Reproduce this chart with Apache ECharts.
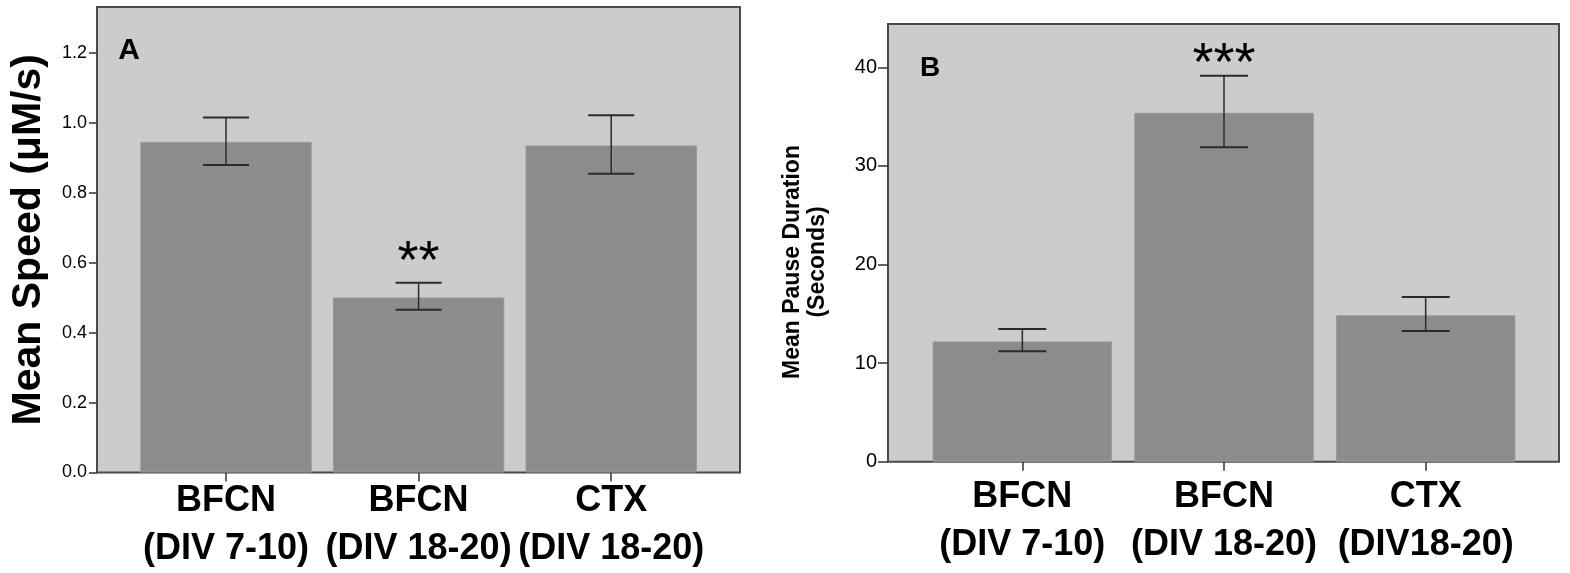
<!DOCTYPE html>
<html>
<head>
  <meta charset="utf-8">
  <title>Mean speed / mean pause duration</title>
  <script src="https://cdn.jsdelivr.net/npm/echarts@6/dist/echarts.min.js"></script>
  <style>
    html, body { margin: 0; padding: 0; background: #fff; }
    #chart { width: 1570px; height: 573px; }
  </style>
</head>
<body>
<div id="chart"></div>
<script type="text/javascript">
  // panel A
  var speedCats = ['BFCN\n(DIV 7-10)', 'BFCN\n(DIV 18-20)', 'CTX\n(DIV 18-20)'];
  var speedMean = [0.946, 0.501, 0.936];
  var speedLow = [0.880, 0.466, 0.855];
  var speedHigh = [1.016, 0.543, 1.022];
  var speedStars = ['', '**', ''];
  var speedTicks = [0, 0.2, 0.4, 0.6, 0.8, 1.0, 1.2];

  // panel B
  var pauseCats = ['BFCN\n(DIV 7-10)', 'BFCN\n(DIV 18-20)', 'CTX\n(DIV18-20)'];
  var pauseMean = [12.2, 35.4, 14.85];
  var pauseLow = [11.2, 31.9, 13.25];
  var pauseHigh = [13.45, 39.15, 16.7];
  var pauseStars = ['', '***', ''];
  var pauseTicks = [0, 10, 20, 30, 40];

  var FONT = '"Liberation Sans", Arial, sans-serif';
  var speedMax = 1.332, pauseMax = 44.4;

  var chart = echarts.init(document.getElementById('chart'));

  // error bars + significance stars, drawn through the axes
  function errorSeries(axisIdx, low, high, stars, capHalf, starGap) {
    return {
      type: 'custom',
      xAxisIndex: axisIdx,
      yAxisIndex: axisIdx,
      z: 5,
      clip: false,
      data: low.map(function (l, i) { return [i, l, high[i]]; }),
      renderItem: function (params, api) {
        var i = api.value(0);
        var lo = api.coord([i, api.value(1)]);
        var hi = api.coord([i, api.value(2)]);
        var st = { stroke: '#2b2b2b', lineWidth: 1.5 };
        var capSt = { stroke: '#2b2b2b', lineWidth: 2 };
        var kids = [
          { type: 'line', shape: { x1: hi[0], y1: hi[1], x2: lo[0], y2: lo[1] }, style: st },
          { type: 'line', shape: { x1: hi[0] - capHalf, y1: hi[1], x2: hi[0] + capHalf, y2: hi[1] }, style: capSt },
          { type: 'line', shape: { x1: lo[0] - capHalf, y1: lo[1], x2: lo[0] + capHalf, y2: lo[1] }, style: capSt }
        ];
        if (stars[i]) {
          kids.push({
            type: 'text',
            style: {
              text: stars[i], x: hi[0], y: hi[1] - starGap,
              align: 'center', verticalAlign: 'middle',
              font: '54px ' + FONT, fill: '#000'
            }
          });
        }
        return { type: 'group', children: kids };
      }
    };
  }

  var catAxis = function (gridIndex, data, margin) {
    return {
      type: 'category', gridIndex: gridIndex, data: data,
      axisLine: { show: false },
      axisTick: { show: true, alignWithLabel: true, length: 9, lineStyle: { color: '#333', width: 1.5 } },
      axisLabel: {
        interval: 0, margin: margin, color: '#000',
        fontFamily: FONT, fontSize: 36, fontWeight: 'bold', lineHeight: 48
      },
      splitLine: { show: false }
    };
  };
  var hiddenX = function (gridIndex) {
    return { type: 'value', gridIndex: gridIndex, show: false, min: 0, max: 1 };
  };
  var hiddenY = function (gridIndex, max) {
    return { type: 'value', gridIndex: gridIndex, show: false, min: 0, max: max };
  };

  chart.setOption({
    backgroundColor: '#fff',
    animation: false,
    grid: [
      // frames
      { left: 97, top: 7, width: 643, height: 465.5, show: true, backgroundColor: '#cccccc',
        borderColor: '#4a4a4a', borderWidth: 2, outerBoundsMode: 'none' },
      { left: 129.7, top: 7, width: 577.8, height: 465.5, outerBoundsMode: 'none' },
      { left: 888, top: 24, width: 671, height: 437.7, show: true, backgroundColor: '#cccccc',
        borderColor: '#4a4a4a', borderWidth: 2, outerBoundsMode: 'none' },
      { left: 921.5, top: 24, width: 605, height: 437.7, outerBoundsMode: 'none' }
    ],
    xAxis: [hiddenX(0), catAxis(1, speedCats, 5), hiddenX(2), catAxis(3, pauseCats, 11)],
    yAxis: [
      {
        type: 'value', gridIndex: 0, min: 0, max: speedMax,
        name: 'Mean Speed (\u03bcM/s)', nameLocation: 'middle', nameGap: 48,
        nameTextStyle: { fontFamily: FONT, fontSize: 41, fontWeight: 'bold', color: '#000' },
        axisLine: { show: false },
        axisTick: { show: true, length: 8, customValues: speedTicks, lineStyle: { color: '#333', width: 1.5 } },
        axisLabel: {
          customValues: speedTicks, margin: 10, color: '#000', fontFamily: FONT, fontSize: 18,
          formatter: function (v) { return v.toFixed(1); }
        },
        splitLine: { show: false }
      },
      hiddenY(1, speedMax),
      {
        type: 'value', gridIndex: 2, min: 0, max: pauseMax,
        axisLine: { show: false },
        axisTick: { show: true, length: 10, customValues: pauseTicks, lineStyle: { color: '#333', width: 1.5 } },
        axisLabel: {
          customValues: pauseTicks, margin: 11, color: '#000', fontFamily: FONT, fontSize: 20
        },
        splitLine: { show: false }
      },
      hiddenY(3, pauseMax)
    ],
    graphic: [
      { type: 'text', x: 129, y: 51, style: { text: 'A', font: 'bold 30px ' + FONT, fill: '#000', align: 'center', verticalAlign: 'middle' } },
      { type: 'text', x: 930, y: 68, style: { text: 'B', font: 'bold 28px ' + FONT, fill: '#000', align: 'center', verticalAlign: 'middle' } },
      // y axis title of panel B
      { type: 'text', x: 805, y: 262, rotation: Math.PI / 2,
        style: { text: 'Mean Pause Duration\n(Seconds)', font: 'bold 23px ' + FONT, lineHeight: 25,
                 fill: '#000', align: 'center', verticalAlign: 'middle' } }
    ],
    series: [
      {
        name: 'Mean Speed', type: 'bar', xAxisIndex: 1, yAxisIndex: 1,
        barWidth: '89%', data: speedMean,
        itemStyle: { color: '#8c8c8c', borderColor: '#9a9a9a', borderWidth: 1 }
      },
      errorSeries(1, speedLow, speedHigh, speedStars, 23, 20),
      {
        name: 'Mean Pause Duration', type: 'bar', xAxisIndex: 3, yAxisIndex: 3,
        barWidth: '89%', data: pauseMean,
        itemStyle: { color: '#8c8c8c', borderColor: '#9a9a9a', borderWidth: 1 }
      },
      errorSeries(3, pauseLow, pauseHigh, pauseStars, 24, 11)
    ]
  });
</script>
</body>
</html>
